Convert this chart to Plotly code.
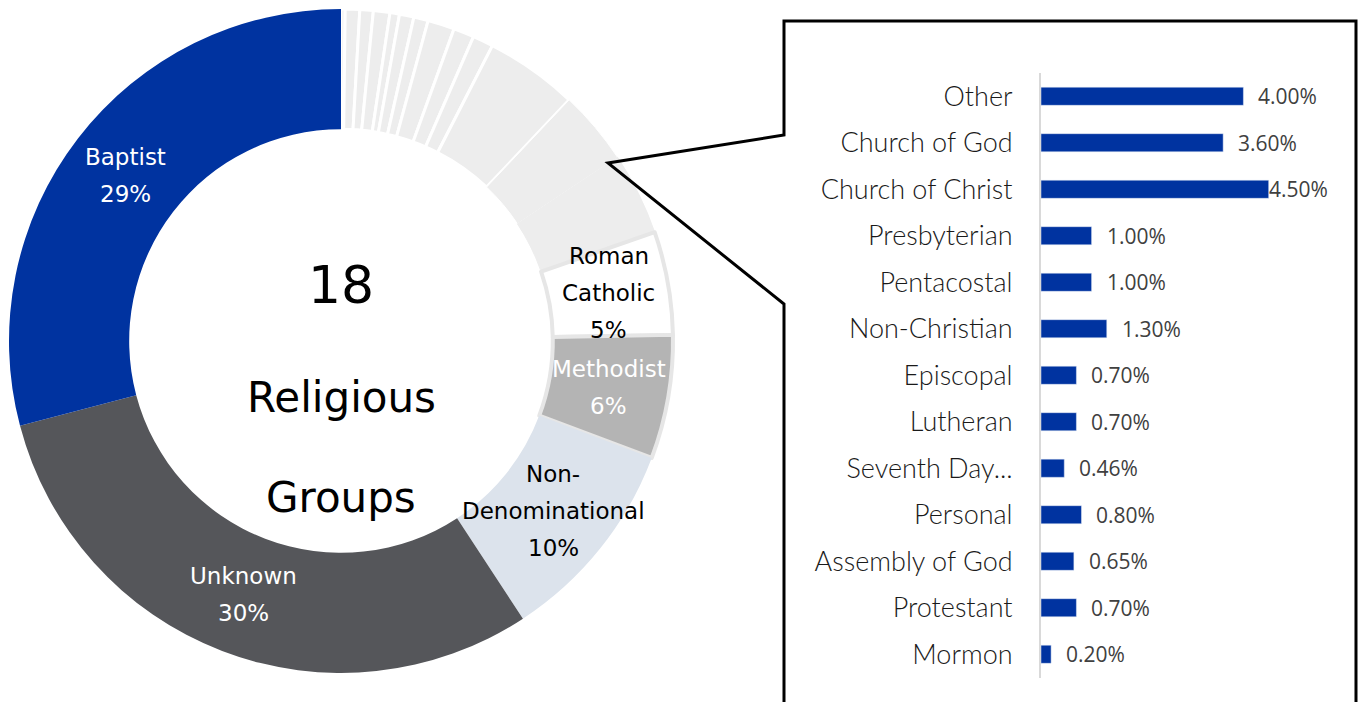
import math
import plotly.graph_objects as go

W, H = 1363, 702

# ---------------- data ----------------
bar_categories = ["Other", "Church of God", "Church of Christ", "Presbyterian", "Pentacostal",
                  "Non-Christian", "Episcopal", "Lutheran", "Seventh Day...", "Personal",
                  "Assembly of God", "Protestant", "Mormon"]
bar_values = [4.00, 3.60, 4.50, 1.00, 1.00, 1.30, 0.70, 0.70, 0.46, 0.80, 0.65, 0.70, 0.20]

major_groups = ["Roman Catholic", "Methodist", "Non-Denominational", "Unknown", "Baptist"]
major_values = [5, 6, 10, 30, 29]
major_label_lines = [["Roman", "Catholic"], ["Methodist"], ["Non-", "Denominational"],
                     ["Unknown"], ["Baptist"]]

# ---------------- styles ----------------
minor_color = "#ededed"
major_colors = ["#ffffff", "#b4b4b4", "#dce3ec", "#55565a", "#0033a0"]
major_text_colors = ["#000000", "#ffffff", "#000000", "#ffffff", "#ffffff"]
major_line_colors = ["#e6e6e6", "#e6e6e6", "#dce3ec", "#55565a", "#0033a0"]
major_line_widths = [4, 4, 0, 0, 0]
BLUE = "#0033a0"
LABEL_FONT = "DejaVu Sans"

def px(x):
    return x / W

def py(y):
    return 1 - y / H

# donut geometry (pixels)
CX, CY, R = 341, 341, 332
HOLE = 0.638

donut_labels = bar_categories[::-1] + major_groups
donut_values = bar_values[::-1] + major_values
n_minor = len(bar_categories)
colors = [minor_color] * n_minor + major_colors
line_colors = ["#ffffff"] * n_minor + major_line_colors
line_widths = [3] * (n_minor - 2) + [1, 1] + major_line_widths
line_colors[n_minor - 1] = minor_color  # "Other" blends with neighbours

fig = go.Figure()

fig.add_trace(go.Pie(
    labels=donut_labels,
    values=donut_values,
    sort=False,
    direction="clockwise",
    rotation=0,
    hole=HOLE,
    textinfo="none",
    hoverinfo="label+percent",
    marker=dict(colors=colors, line=dict(color=line_colors, width=line_widths)),
    domain=dict(x=[px(CX - R), px(CX + R)], y=[py(CY + R), py(CY - R)]),
    showlegend=False,
))

fig.add_trace(go.Bar(
    x=bar_values,
    y=bar_categories,
    orientation="h",
    marker=dict(color=BLUE),
    width=0.39,
    hoverinfo="x+y",
    showlegend=False,
    xaxis="x", yaxis="y",
))

annotations = []

# labels on the major donut slices, placed at mid-ring on each slice's mid-angle
total = sum(donut_values)
cum = sum(bar_values)
r_mid = R * (1 + HOLE) / 2
LINE_STEP = 37
for name_lines, v, tc in zip(major_label_lines, major_values, major_text_colors):
    theta = math.radians(360 * (cum + v / 2) / total)
    cum += v
    lx = CX + r_mid * math.sin(theta)
    ly = CY - r_mid * math.cos(theta)
    lines = name_lines + [f"{v}%"]
    n = len(lines)
    for i, t in enumerate(lines):
        yy = ly + (i - (n - 1) / 2) * LINE_STEP
        annotations.append(dict(
            x=px(lx), y=py(yy), xref="paper", yref="paper",
            text=t, showarrow=False, xanchor="center", yanchor="middle",
            font=dict(family=LABEL_FONT, size=23, color=tc),
        ))

# centre text
center_items = [(str(len(donut_labels)), 285, 52), ("Religious", 397, 42), ("Groups", 497, 42)]
for t, yy, s in center_items:
    annotations.append(dict(
        x=px(CX), y=py(yy), xref="paper", yref="paper", text=t, showarrow=False,
        xanchor="center", yanchor="middle",
        font=dict(family=LABEL_FONT, size=s, color="#000000"),
    ))

# value labels on bars
for cat, v in zip(bar_categories, bar_values):
    annotations.append(dict(
        x=v, y=cat, xref="x", yref="y", text=f"{v:.2f}%", showarrow=False,
        xanchor="left", yanchor="middle", xshift=13 if v < 4.2 else -2,
        font=dict(family="Open Sans", size=21, color="#404040"),
    ))

# callout box outline
pts = [(1356, 712), (1356, 21), (784, 21), (784, 135), (608, 163), (784, 304), (784, 712)]
path = "M " + " L ".join(f"{px(a):.5f},{py(b):.5f}" for a, b in pts)

AX_LEFT, AX_RIGHT = 1041, 1340
PX_PER_UNIT = 50.6

fig.update_layout(
    width=W, height=H, autosize=False,
    margin=dict(l=0, r=0, t=0, b=0),
    paper_bgcolor="white", plot_bgcolor="white",
    xaxis=dict(domain=[px(AX_LEFT), px(AX_RIGHT)],
               range=[0, (AX_RIGHT - AX_LEFT) / PX_PER_UNIT],
               visible=False, fixedrange=True),
    yaxis=dict(domain=[py(677.5), py(73)],
               categoryorder="array", categoryarray=bar_categories,
               autorange="reversed",
               showline=True, linecolor="#d9d9d9", linewidth=2,
               showgrid=False, zeroline=False, ticks="",
               ticklabelstandoff=21,
               tickfont=dict(family="Lato", size=27, color="#1a1a1a", weight=300),
               fixedrange=True),
    annotations=annotations,
    shapes=[dict(type="path", path=path, xref="paper", yref="paper",
                 line=dict(color="black", width=3), layer="above")],
    bargap=0.6,
)

fig.write_html("out.html",
               config={"displayModeBar": False},
               post_script="document.body.style.margin='0';document.body.style.overflow='hidden';")
